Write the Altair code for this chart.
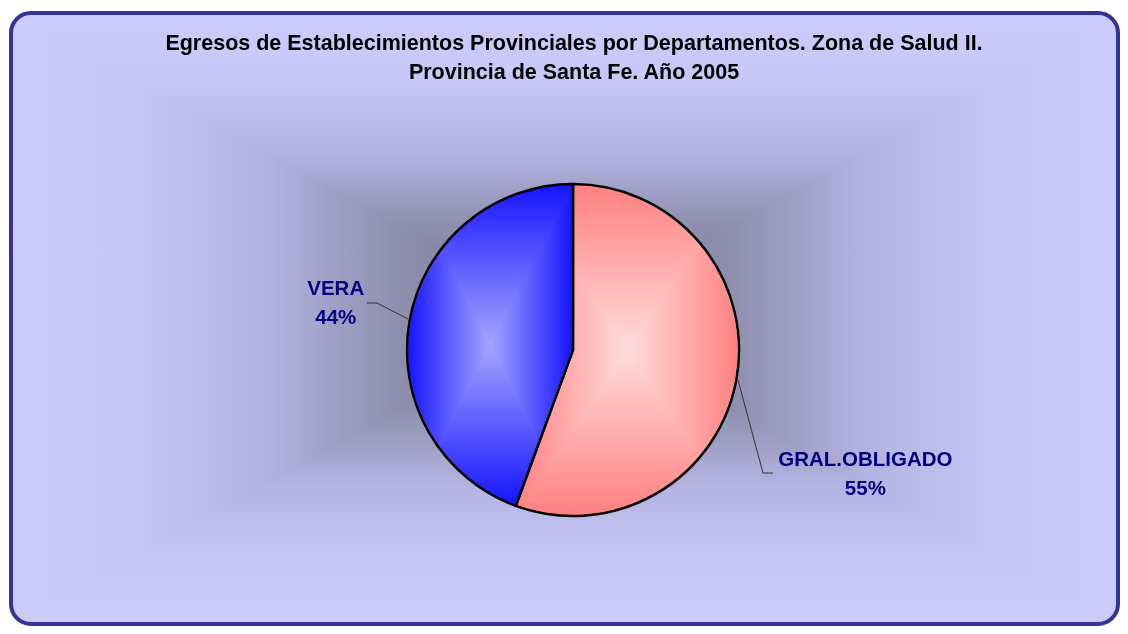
import altair as alt
import pandas as pd

# ---- data ----
categories = ["GRAL.OBLIGADO", "VERA"]
values = [55.6, 44.4]
pct_labels = ["55%", "44%"]
title_lines = [
    "Egresos de Establecimientos Provinciales por Departamentos. Zona de Salud II.",
    "Provincia de Santa Fe. Año 2005",
]

df = pd.DataFrame({"cat": categories, "val": values, "pct": pct_labels,
                   "order": list(range(len(categories)))})
one = pd.DataFrame({"k": [0]})

W, H = 1112, 618
CX, CY, R = 565, 342, 166
FONT = "Liberation Sans"
NAVY = "#000080"


def lin(stops, vertical=False):
    return {"gradient": "linear", "x1": 0, "y1": 0,
            "x2": 0 if vertical else 1, "y2": 1 if vertical else 0,
            "stops": [{"offset": o, "color": c} for o, c in stops]}


bg_stops = [(0, "#ccccfc"), (0.1, "#c8c8f8"), (0.225, "#b4b4e2"), (0.35, "#8e8eae"),
            (0.5, "#78788f"), (0.65, "#8e8eae"), (0.775, "#b4b4e2"), (0.9, "#c8c8f8"),
            (1, "#ccccfc")]
pink_stops = [(0, "#ff8080"), (0.5, "#ffdcdc"), (1, "#ff8080")]
blue_stops = [(0, "#1414ff"), (0.5, "#a4a4ff"), (1, "#1414ff")]

rect_enc = dict(x=alt.value(3), x2=alt.value(1110), y=alt.value(5), y2=alt.value(616))
bg1 = alt.Chart(one).mark_rect(cornerRadius=20, fill=lin(bg_stops)).encode(**rect_enc)
bg2 = alt.Chart(one).mark_rect(cornerRadius=20, fill=lin(bg_stops, True),
                               blend="lighten").encode(**rect_enc)
border = alt.Chart(one).mark_rect(cornerRadius=20, filled=False, stroke="#333399",
                                  strokeWidth=4).encode(**rect_enc)

base = alt.Chart(df).transform_window(
    v1="sum(val)", sort=[alt.SortField("order")], frame=[None, 0]
).transform_calculate(
    v0="datum.v1 - datum.val",
    mid="(datum.v0 + datum.v1) / 2",
    lbl="datum.cat + '\\n' + datum.pct",
)

theta_scale = alt.Scale(domain=[0, 100])
layers = [bg1, bg2, border]

slice_styles = {
    "GRAL.OBLIGADO": (pink_stops, -3, 63, 300),
    "VERA": (blue_stops, 2, -12, 243),
}

arcs, texts = [], []
for cat in categories:
    stops, ddx, ddy, rad = slice_styles[cat]
    b = base.transform_filter(alt.datum.cat == cat)
    a1 = b.mark_arc(radius=R, fill=lin(stops)).encode(
        theta=alt.Theta("v0:Q", scale=theta_scale, stack=None), theta2="v1:Q",
        x=alt.value(CX), y=alt.value(CY))
    a2 = b.mark_arc(radius=R, fill=lin(stops, True), blend="darken", stroke="black",
                    strokeWidth=2.5).encode(
        theta=alt.Theta("v0:Q", scale=theta_scale, stack=None), theta2="v1:Q",
        x=alt.value(CX), y=alt.value(CY))
    t = b.mark_text(radius=rad, dx=ddx, dy=ddy, lineBreak="\n", lineHeight=29,
                    align="center", baseline="alphabetic", font=FONT, fontSize=20.5,
                    fontWeight="bold", color=NAVY).encode(
        theta=alt.Theta("mid:Q", scale=theta_scale, stack=None), text="lbl:N",
        x=alt.value(CX), y=alt.value(CY))
    arcs += [a1, a2]
    texts.append(t)

# leader lines (annotation)
lead = dict(color="#333333", strokeWidth=1)
leaders = [
    alt.Chart(one).mark_rule(**lead).encode(x=alt.value(359), x2=alt.value(369), y=alt.value(295), y2=alt.value(295)),
    alt.Chart(one).mark_rule(**lead).encode(x=alt.value(369), x2=alt.value(400), y=alt.value(295), y2=alt.value(311)),
    alt.Chart(one).mark_rule(**lead).encode(x=alt.value(730), x2=alt.value(755), y=alt.value(372), y2=alt.value(465)),
    alt.Chart(one).mark_rule(**lead).encode(x=alt.value(755), x2=alt.value(765), y=alt.value(465), y2=alt.value(465)),
]

title = alt.Chart(one).mark_text(align="center", baseline="alphabetic", font=FONT,
                                 fontSize=21.5, fontWeight="bold", color="black",
                                 lineHeight=28.5).encode(
    x=alt.value(566), y=alt.value(42), text=alt.value(title_lines))

chart = alt.layer(*(layers + leaders + arcs + texts + [title])).properties(
    width=W, height=H, padding=0, autosize=alt.AutoSizeParams(type="none")
).configure_view(stroke=None)

chart.save("out.html", embed_options={"renderer": "svg", "actions": False})
